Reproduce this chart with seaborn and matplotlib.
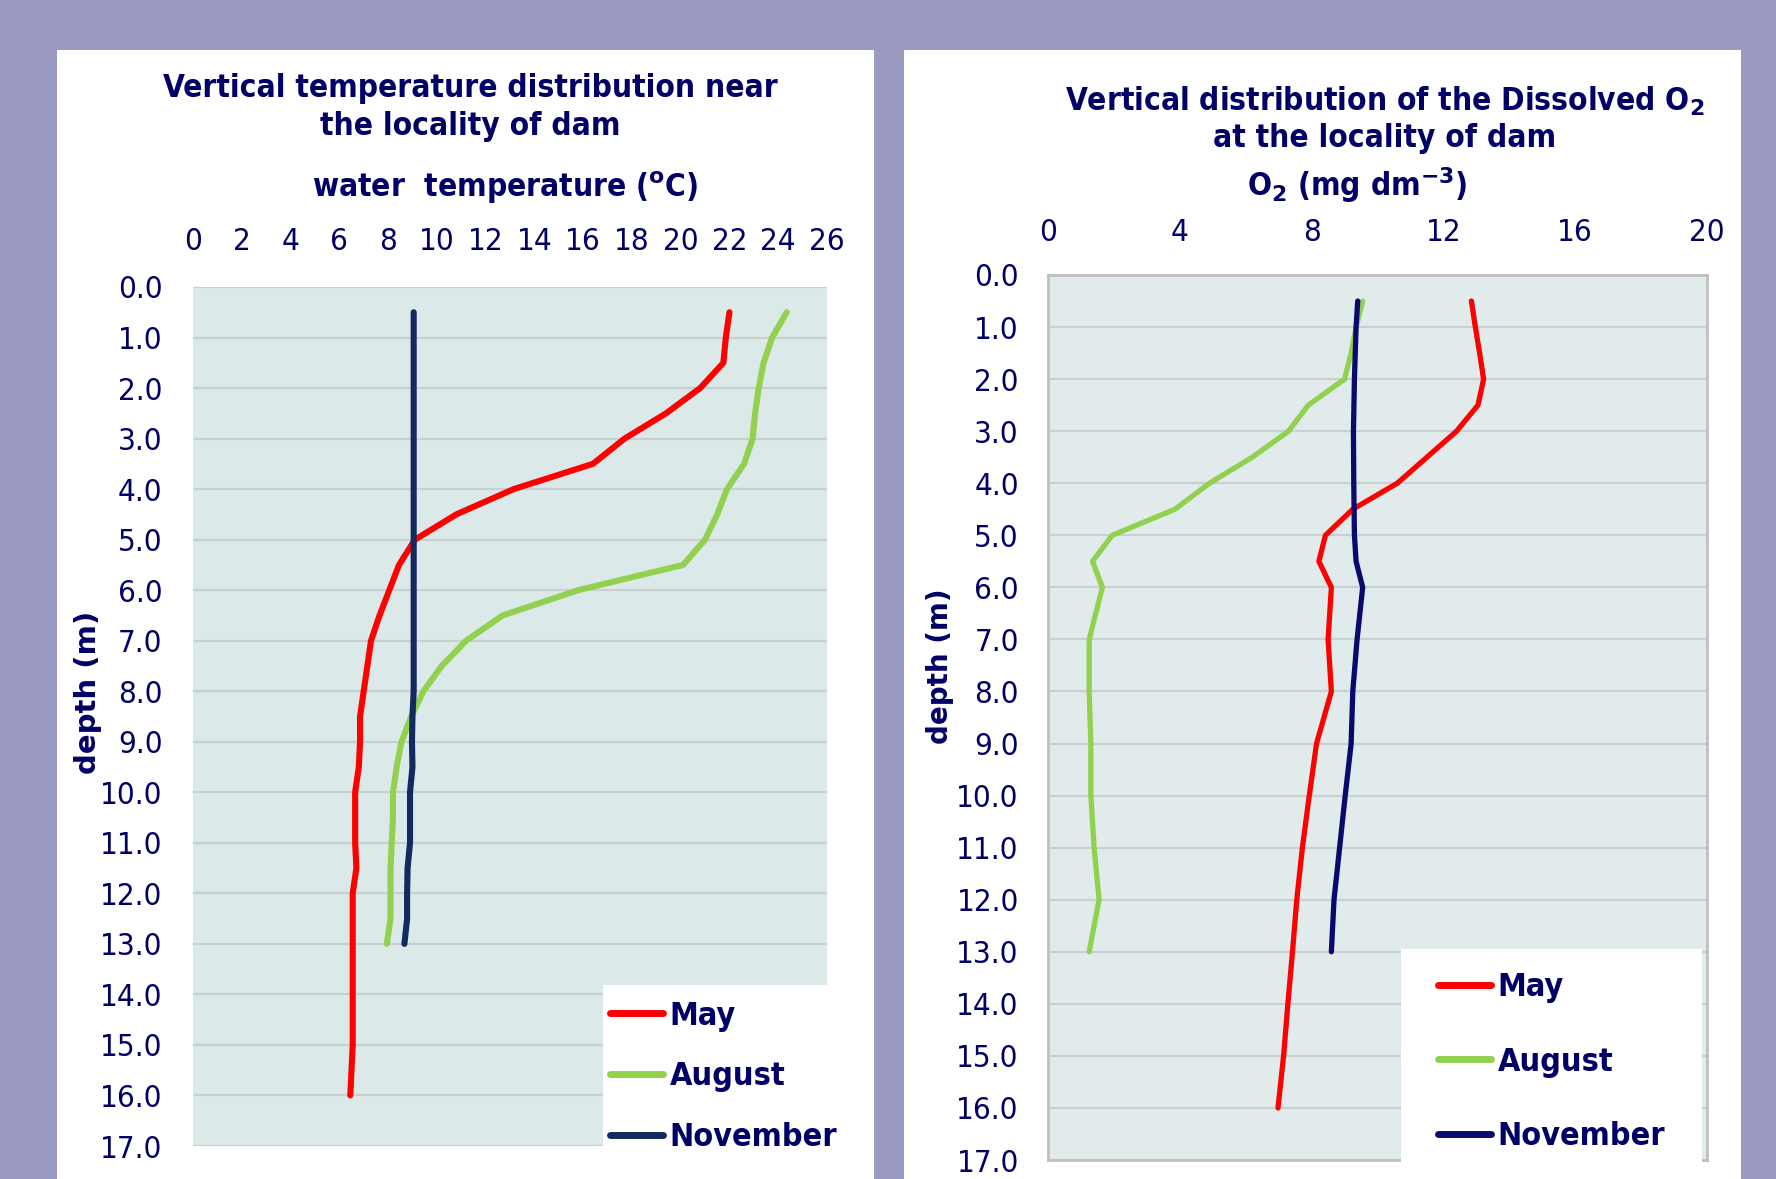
import numpy as np
import pandas as pd
import matplotlib
matplotlib.use("Agg")
import matplotlib.pyplot as plt
from matplotlib import font_manager
from matplotlib.lines import Line2D
from matplotlib.patches import Rectangle
import seaborn as sns

# ---- data ----
MONTHS = ["May", "August", "November"]

# water temperature (°C) by depth (m)
TEMP_DEPTH_MAY = [0.5, 1.0, 1.5, 2.0, 2.5, 3.0, 3.5, 4.0, 4.5, 5.0, 5.5, 6.0, 6.5, 7.0, 7.5, 8.0,
                  8.5, 9.0, 9.5, 10.0, 10.5, 11.0, 11.5, 12.0, 12.5, 13.0, 13.5, 14.0, 14.5, 15.0,
                  15.5, 16.0]
TEMP_MAY = [22.0, 21.85, 21.75, 20.8, 19.4, 17.7, 16.4, 13.15, 10.8, 9.1, 8.45, 8.05, 7.65, 7.3,
            7.15, 7.0, 6.85, 6.85, 6.8, 6.65, 6.65, 6.65, 6.7, 6.55, 6.55, 6.55, 6.55, 6.55, 6.55,
            6.55, 6.5, 6.45]
TEMP_DEPTH_AUG = [0.5, 1.0, 1.5, 2.0, 2.5, 3.0, 3.5, 4.0, 4.5, 5.0, 5.5, 6.0, 6.5, 7.0, 7.5, 8.0,
                  8.5, 9.0, 9.5, 10.0, 10.5, 11.0, 11.5, 12.0, 12.5, 13.0]
TEMP_AUG = [24.35, 23.75, 23.4, 23.2, 23.05, 22.95, 22.6, 21.9, 21.5, 21.0, 20.1, 15.8, 12.7,
            11.2, 10.2, 9.45, 8.95, 8.55, 8.35, 8.2, 8.2, 8.15, 8.1, 8.1, 8.1, 7.95]
TEMP_DEPTH_NOV = [0.5, 1.0, 1.5, 2.0, 2.5, 3.0, 3.5, 4.0, 4.5, 5.0, 5.5, 6.0, 6.5, 7.0, 7.5, 8.0,
                  8.5, 9.0, 9.5, 10.0, 10.5, 11.0, 11.5, 12.0, 12.5, 13.0]
TEMP_NOV = [9.05, 9.05, 9.05, 9.05, 9.05, 9.05, 9.05, 9.05, 9.05, 9.05, 9.05, 9.05, 9.05, 9.05,
            9.05, 9.05, 9.0, 8.98, 9.0, 8.9, 8.9, 8.9, 8.8, 8.78, 8.78, 8.67]

# dissolved O2 (mg dm-3) by depth (m)
O2_DEPTH_MAY = [0.5, 1.0, 1.5, 2.0, 2.5, 3.0, 3.5, 4.0, 4.5, 5.0, 5.5, 6.0, 7.0, 8.0, 9.0, 10.0,
                11.0, 12.0, 13.0, 14.0, 15.0, 16.0]
O2_MAY = [12.85, 12.97, 13.1, 13.22, 13.05, 12.4, 11.5, 10.6, 9.25, 8.42, 8.22, 8.6, 8.5, 8.6,
          8.15, 7.93, 7.72, 7.55, 7.42, 7.28, 7.15, 6.98]
O2_DEPTH_AUG = [0.5, 1.0, 1.5, 2.0, 2.5, 3.0, 3.5, 4.0, 4.5, 5.0, 5.5, 6.0, 7.0, 8.0, 9.0, 10.0,
                11.0, 12.0, 13.0]
O2_AUG = [9.55, 9.35, 9.2, 9.0, 7.9, 7.3, 6.2, 4.9, 3.85, 1.95, 1.35, 1.65, 1.25, 1.25, 1.3, 1.3,
          1.4, 1.55, 1.25]
O2_DEPTH_NOV = [0.5, 1.0, 2.0, 3.0, 4.0, 5.0, 5.5, 6.0, 7.0, 8.0, 9.0, 10.0, 11.0, 12.0, 13.0]
O2_NOV = [9.4, 9.35, 9.3, 9.27, 9.28, 9.3, 9.35, 9.55, 9.38, 9.25, 9.2, 9.02, 8.85, 8.68, 8.6]

TEMP_TICKS = list(range(0, 27, 2))
O2_TICKS = [0, 4, 8, 12, 16, 20]
DEPTH_TICKS = list(range(0, 18))

# ---- style ----
BG = "#9999C2"
NAVY = "#000066"
PLOT_BG_L = "#DCE9E9"
PLOT_BG_R = "#E1EBEB"
GRID = "#C8D0D0"
TEMP_COLORS = {"May": "#FF0000", "August": "#92D050", "November": "#132A60"}
O2_COLORS = {"May": "#FF0000", "August": "#92D050", "November": "#0A0A6E"}

sns.set_theme(style="white")

names = {(f.name, f.stretch) for f in font_manager.fontManager.ttflist}
if ("DejaVu Sans", "condensed") in names:
    NARROW = dict(family="DejaVu Sans", stretch="condensed")
elif any(n == "Liberation Sans Narrow" for n, _ in names):
    NARROW = dict(family="Liberation Sans Narrow")
else:
    NARROW = dict(family="DejaVu Sans")
plt.rcParams["font.family"] = ["DejaVu Sans"]
plt.rcParams["mathtext.fontset"] = "dejavusans"

W, H = 1776, 1179


def frac(x, y):
    return x / W, 1 - y / H


def long_df(pairs):
    frames = []
    for month, depth, val in pairs:
        frames.append(pd.DataFrame({"month": month, "depth": depth, "value": val}))
    return pd.concat(frames, ignore_index=True)


temp_df = long_df([("May", TEMP_DEPTH_MAY, TEMP_MAY),
                   ("August", TEMP_DEPTH_AUG, TEMP_AUG),
                   ("November", TEMP_DEPTH_NOV, TEMP_NOV)])
o2_df = long_df([("May", O2_DEPTH_MAY, O2_MAY),
                 ("August", O2_DEPTH_AUG, O2_AUG),
                 ("November", O2_DEPTH_NOV, O2_NOV)])

fig = plt.figure(figsize=(W / 100, H / 100), dpi=100)
fig.patch.set_facecolor(BG)

# white panels behind each chart
for x0, x1 in [(57, 874), (904, 1741)]:
    fig.add_artist(Rectangle(frac(x0, H), (x1 - x0) / W, 1 - 50 / H,
                             transform=fig.transFigure, facecolor="white",
                             edgecolor="none", zorder=-10))


def make_axes(px_left, px_top, px_right, px_bottom):
    l, t = frac(px_left, px_top)
    r, b = frac(px_right, px_bottom)
    return fig.add_axes([l, b, r - l, t - b])


ax1 = make_axes(193, 287, 827, 1146)
ax2 = make_axes(1048, 275, 1707, 1160)


def style_axes(ax, xmax, xticks, bg, xpad, ypad, border):
    ax.set_facecolor(bg)
    ax.set_xlim(0, xmax)
    ax.set_ylim(17, 0)
    ax.xaxis.tick_top()
    ax.set_xticks(xticks)
    ax.set_yticks(DEPTH_TICKS)
    ax.set_yticklabels([f"{d:.1f}" for d in DEPTH_TICKS])
    ax.tick_params(axis="x", length=0, pad=xpad, labelsize=22.5, labelcolor=NAVY)
    ax.tick_params(axis="y", length=0, pad=ypad, labelsize=22.5, labelcolor=NAVY)
    for lab in ax.get_xticklabels() + ax.get_yticklabels():
        lab.set_fontfamily(NARROW["family"])
        if "stretch" in NARROW:
            lab.set_fontstretch(NARROW["stretch"])
    ax.grid(axis="y", color=GRID, linewidth=1.6)
    ax.grid(axis="x", visible=False)
    ax.set_axisbelow(True)
    for sp in ax.spines.values():
        sp.set_visible(border)
        sp.set_color("#C0C0C0")
        sp.set_linewidth(2)
    ax.set_xlabel("")
    ax.set_ylabel("")


sns.lineplot(data=temp_df, x="value", y="depth", hue="month", hue_order=MONTHS,
             palette=TEMP_COLORS, orient="y", estimator=None, sort=True,
             linewidth=4.4, legend=False, ax=ax1)
sns.lineplot(data=o2_df, x="value", y="depth", hue="month", hue_order=MONTHS,
             palette=O2_COLORS, orient="y", estimator=None, sort=True,
             linewidth=3.8, legend=False, ax=ax2)
for ln in ax1.lines + ax2.lines:
    ln.set_solid_capstyle("round")

style_axes(ax1, 26, TEMP_TICKS, PLOT_BG_L, xpad=22, ypad=22, border=False)
style_axes(ax2, 20, O2_TICKS, PLOT_BG_R, xpad=20, ypad=21, border=True)

# titles and axis labels
title_kw = dict(ha="center", va="center", color=NAVY, fontsize=22.7, fontweight="bold", **NARROW)
fig.text(*frac(470, 88), "Vertical temperature distribution near", **title_kw)
fig.text(*frac(470, 127), "the locality of dam", **title_kw)
fig.text(*frac(505, 188), r"water  temperature ($^{\mathbf{o}}$C)", **title_kw)
fig.text(*frac(1385, 101), r"Vertical distribution of the Dissolved O$_\mathbf{2}$", **title_kw)
fig.text(*frac(1385, 139), "at the locality of dam", **title_kw)
fig.text(*frac(1357, 185), r"O$_\mathbf{2}$ (mg dm$^{\mathbf{-3}}$)", **title_kw)

fig.text(*frac(88, 692), "depth (m)", rotation=90, ha="center", va="center",
         color=NAVY, fontsize=21, fontweight="bold")
fig.text(*frac(940, 666), "depth (m)", rotation=90, ha="center", va="center",
         color=NAVY, fontsize=20, fontweight="bold")

# legends on white boxes
fig.add_artist(Rectangle(frac(603, H), (874 - 603) / W, (H - 985) / H,
                         transform=fig.transFigure, facecolor="white",
                         edgecolor="none", zorder=6))
fig.add_artist(Rectangle(frac(1401, H), (1702 - 1401) / W, (H - 949) / H,
                         transform=fig.transFigure, facecolor="white",
                         edgecolor="none", zorder=6))


def add_legend(colors, anchor, spacing, lw):
    handles = [Line2D([], [], color=colors[m], linewidth=lw, solid_capstyle="round")
               for m in MONTHS]
    leg = fig.legend(handles, MONTHS, loc="center left", bbox_to_anchor=anchor,
                     frameon=False, borderpad=0, borderaxespad=0,
                     handlelength=1.65, handletextpad=0.2, labelspacing=spacing,
                     prop=dict(size=23.2, weight="bold", **NARROW))
    for t in leg.get_texts():
        t.set_color(NAVY)
    leg.set_zorder(10)


add_legend(TEMP_COLORS, frac(610, 1077), 0.93, 5)
add_legend(O2_COLORS, frac(1438, 1062), 1.35, 5)

fig.savefig("out.png", dpi=100, facecolor=fig.get_facecolor())
